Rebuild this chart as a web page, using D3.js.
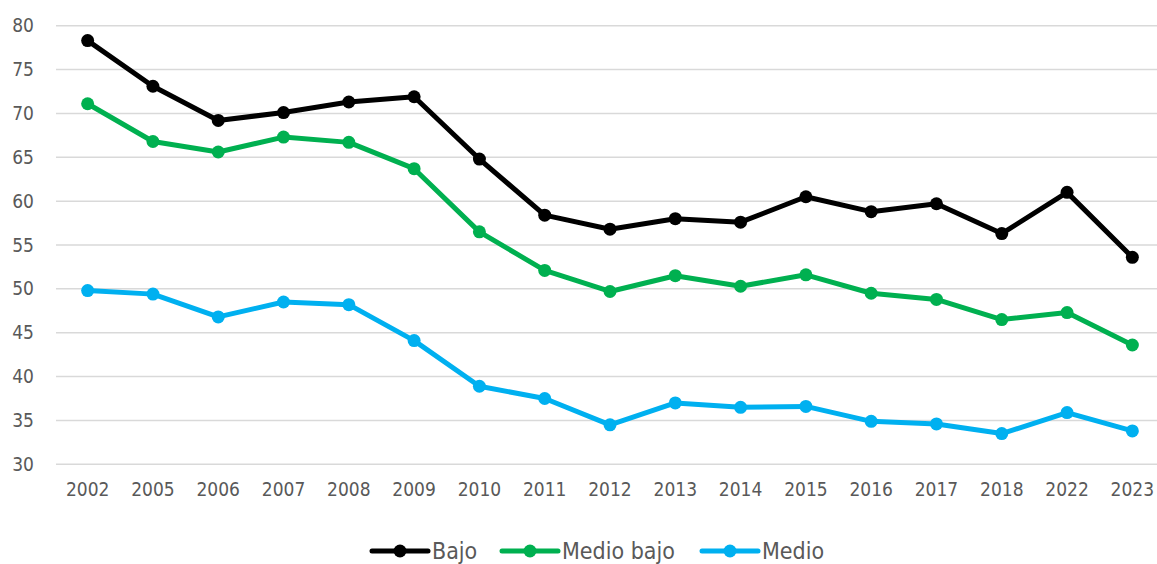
<!DOCTYPE html>
<html>
<head>
<meta charset="utf-8">
<script src="https://cdn.jsdelivr.net/npm/d3@7"></script>
<style>
  body { margin: 0; background: #fff; }
  text { font-family: "Liberation Sans Narrow", "DejaVu Sans Condensed", sans-serif; fill: #595959; }
</style>
</head>
<body>
<script>
var years = ['2002','2005','2006','2007','2008','2009','2010','2011','2012','2013','2014','2015','2016','2017','2018','2022','2023'];
var bajo      = [78.3, 73.1, 69.2, 70.1, 71.3, 71.9, 64.8, 58.4, 56.8, 58.0, 57.6, 60.5, 58.8, 59.7, 56.3, 61.0, 53.6];
var medioBajo = [71.1, 66.8, 65.6, 67.3, 66.7, 63.7, 56.5, 52.1, 49.7, 51.5, 50.3, 51.6, 49.5, 48.8, 46.5, 47.3, 43.6];
var medio     = [49.8, 49.4, 46.8, 48.5, 48.2, 44.1, 38.9, 37.5, 34.5, 37.0, 36.5, 36.6, 34.9, 34.6, 33.5, 35.9, 33.8];
var yTicks    = [30, 35, 40, 45, 50, 55, 60, 65, 70, 75, 80];

var series = [
    {name: 'Bajo',       values: bajo,      color: '#000000'},
    {name: 'Medio bajo', values: medioBajo, color: '#00B050'},
    {name: 'Medio',      values: medio,     color: '#00B0F0'}
];

var width  = 1157,
    height = 564;

var svg = d3.select('body')
    .append('svg')
    .attr('width', width)
    .attr('height', height);

var x = d3.scaleBand()
    .domain(years)
    .range([55, 1165]);

var y = d3.scaleLinear()
    .domain([30, 80])
    .range([464.3, 25.7]);

// gridlines
svg.append('g')
    .selectAll('line')
    .data(yTicks)
    .enter().append('line')
    .attr('x1', 56)
    .attr('x2', width)
    .attr('y1', function(d) { return y(d); })
    .attr('y2', function(d) { return y(d); })
    .attr('stroke', '#d9d9d9')
    .attr('stroke-width', 1.5);

// y axis labels
var yAxis = svg.append('g')
    .attr('transform', 'translate(34,0)')
    .call(d3.axisLeft(y).tickValues(yTicks).tickSize(0).tickPadding(0));
yAxis.select('.domain').remove();
yAxis.selectAll('text')
    .style('font-size', '19px')
    .attr('fill', '#595959');

// x axis labels
var xAxis = svg.append('g')
    .attr('transform', 'translate(0,482)')
    .call(d3.axisBottom(x).tickSize(0).tickPadding(0));
xAxis.select('.domain').remove();
xAxis.selectAll('text')
    .style('font-size', '19px')
    .attr('fill', '#595959');

var line = d3.line()
    .x(function(d, i) { return x(years[i]) + x.bandwidth() / 2; })
    .y(function(d) { return y(d); });

var g = svg.append('g').selectAll('g.series')
    .data(series)
    .enter().append('g')
    .attr('class', 'series');

g.append('path')
    .attr('d', function(d) { return line(d.values); })
    .attr('fill', 'none')
    .attr('stroke', function(d) { return d.color; })
    .attr('stroke-width', 5)
    .attr('stroke-linejoin', 'round');

g.each(function(s) {
    d3.select(this).selectAll('circle')
        .data(s.values)
        .enter().append('circle')
        .attr('cx', function(d, i) { return x(years[i]) + x.bandwidth() / 2; })
        .attr('cy', function(d) { return y(d); })
        .attr('r', 6.5)
        .attr('fill', s.color);
});

// legend
var legendX = [372, 502, 702];
var lg = svg.append('g').selectAll('g.legend')
    .data(series)
    .enter().append('g')
    .attr('class', 'legend')
    .attr('transform', function(d, i) { return 'translate(' + legendX[i] + ',551)'; });

lg.append('line')
    .attr('x1', 0).attr('x2', 56)
    .attr('stroke', function(d) { return d.color; })
    .attr('stroke-width', 5)
    .attr('stroke-linecap', 'round');
lg.append('circle')
    .attr('cx', 28)
    .attr('r', 6.5)
    .attr('fill', function(d) { return d.color; });
lg.append('text')
    .attr('x', 60)
    .attr('dy', '0.35em')
    .style('font-size', '23px')
    .text(function(d) { return d.name; });
</script>
</body>
</html>
